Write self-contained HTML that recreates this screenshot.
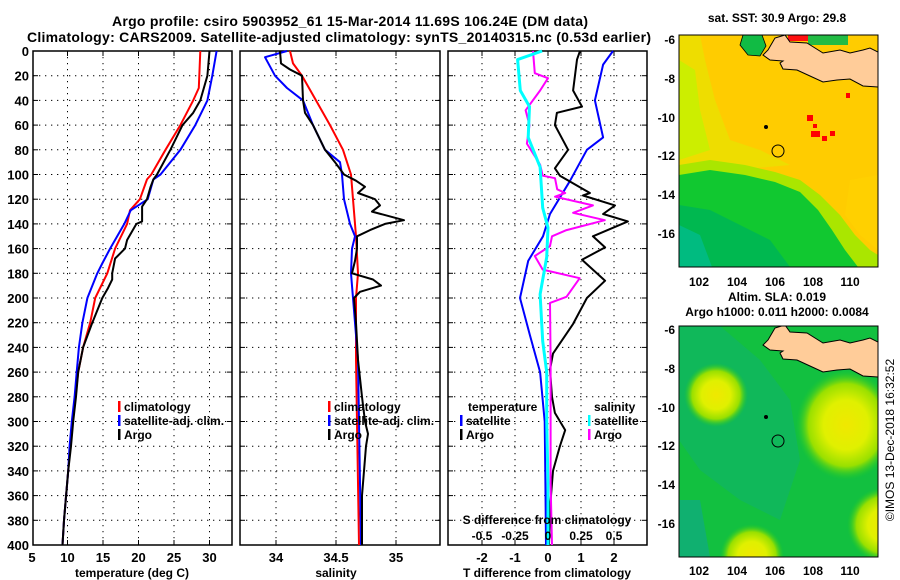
<!DOCTYPE html>
<html><head><meta charset="utf-8">
<style>
body{margin:0;background:#fff;}
svg{display:block;font-family:"Liberation Sans",Arial,sans-serif;font-weight:bold;}
</style></head>
<body>
<svg id="chart" width="900" height="580" viewBox="0 0 900 580" xmlns="http://www.w3.org/2000/svg">
<defs>
<radialGradient id="yb" cx="50%" cy="50%" r="50%">
<stop offset="0" stop-color="#F0E800"/><stop offset="0.45" stop-color="#E0F000"/><stop offset="0.75" stop-color="#99E000"/><stop offset="1" stop-color="#22CC22" stop-opacity="0"/>
</radialGradient>
<clipPath id="m1c"><rect x="679" y="35" width="199" height="232"/></clipPath>
<clipPath id="m2c"><rect x="679" y="326" width="199" height="231"/></clipPath>
</defs>
<text x="350" y="26" text-anchor="middle" font-size="14" textLength="476">Argo profile: csiro 5903952_61 15-Mar-2014 11.69S 106.24E (DM data)</text>
<text x="339" y="42" text-anchor="middle" font-size="14" textLength="624">Climatology: CARS2009. Satellite-adjusted climatology: synTS_20140315.nc (0.53d earlier)</text>
<g id="p1"></g>
<g id="p2"></g>
<g id="p3"></g>

<!-- Map 1 SST -->
<g>
<text x="777" y="22" text-anchor="middle" font-size="12">sat. SST: 30.9 Argo: 29.8</text>
<g clip-path="url(#m1c)">
<rect x="679" y="35" width="199" height="232" fill="#FFCC00"/>
<polygon points="679,35 700,35 705,60 715,100 730,140 760,150 790,165 679,175" fill="#EEDD00"/>
<polygon points="679,60 695,70 700,110 710,150 679,160" fill="#CCEE00"/>
<polygon points="679,165 710,160 745,165 775,172 800,180 820,195 840,215 855,235 870,250 878,255 878,267 679,267" fill="#AAE600"/>
<polygon points="679,175 710,170 745,175 775,182 800,192 818,210 832,230 845,250 858,267 679,267" fill="#11C830"/>
<polygon points="679,205 710,210 740,225 770,240 790,267 679,267" fill="#00B850"/>
<polygon points="679,225 700,235 712,267 679,267" fill="#00BB80"/>
<polygon points="850,180 878,175 878,250 860,235 845,215" fill="#FFD000"/>
<rect x="788" y="35" width="22" height="6" fill="#FF1010"/>
<rect x="808" y="35" width="40" height="10" fill="#22BB44"/>
<g>
<polygon points="768,50 775,38 785,35 790,42 807,43 823,53 840,50 850,53 863,50 870,48 878,52 878,87 863,86 850,79 837,80 823,82 810,76 797,70 783,69 780,63 783,61 770,60 763,55" fill="#FFCC99" stroke="#000" stroke-width="1"/>
<polygon points="743,35 762,35 766,46 760,56 748,55 740,45" fill="#11BB44" stroke="#000" stroke-width="0.8"/>
</g>
<rect x="807" y="115" width="6" height="6" fill="#f00"/><rect x="813" y="124" width="4" height="4" fill="#f00"/>
<rect x="811" y="131" width="9" height="6" fill="#f00"/><rect x="822" y="136" width="5" height="5" fill="#f00"/>
<rect x="830" y="131" width="5" height="5" fill="#f00"/><rect x="846" y="93" width="4" height="5" fill="#f00"/>
<circle cx="778" cy="151" r="6" fill="none" stroke="#000" stroke-width="1"/>
<circle cx="766" cy="127" r="2" fill="#000"/>
</g>
<rect x="679" y="35" width="199" height="232" fill="none" stroke="#000" stroke-width="1"/>
<g font-size="12">
<text x="675" y="44" text-anchor="end">-6</text><text x="675" y="83" text-anchor="end">-8</text>
<text x="675" y="122" text-anchor="end">-10</text><text x="675" y="160" text-anchor="end">-12</text>
<text x="675" y="199" text-anchor="end">-14</text><text x="675" y="238" text-anchor="end">-16</text>
<text x="699" y="286" text-anchor="middle">102</text><text x="737" y="286" text-anchor="middle">104</text>
<text x="775" y="286" text-anchor="middle">106</text><text x="813" y="286" text-anchor="middle">108</text>
<text x="850" y="286" text-anchor="middle">110</text>
</g>
</g>

<!-- Map 2 SLA -->
<g>
<text x="777" y="301" text-anchor="middle" font-size="12">Altim. SLA: 0.019</text>
<text x="777" y="316" text-anchor="middle" font-size="12">Argo h1000: 0.011 h2000: 0.0084</text>
<g clip-path="url(#m2c)">
<rect x="679" y="326" width="199" height="231" fill="#12C040"/>
<polygon points="679,326 720,326 760,360 790,400 800,460 780,520 740,500 700,470 679,440" fill="#10B85A"/>
<polygon points="679,500 700,500 710,557 679,557" fill="#10B070"/>
<ellipse cx="716" cy="395" rx="32" ry="32" fill="url(#yb)"/>
<ellipse cx="846" cy="425" rx="50" ry="55" fill="url(#yb)"/>
<ellipse cx="752" cy="556" rx="32" ry="32" fill="url(#yb)"/>
<ellipse cx="885" cy="525" rx="38" ry="38" fill="url(#yb)"/>
<g transform="translate(0,290)">
<polygon points="768,50 775,38 785,35 790,42 807,43 823,53 840,50 850,53 863,50 870,48 878,52 878,87 863,86 850,79 837,80 823,82 810,76 797,70 783,69 780,63 783,61 770,60 763,55" fill="#FFCC99" stroke="#000" stroke-width="1"/>
</g>
<circle cx="778" cy="441" r="6" fill="none" stroke="#000" stroke-width="1"/>
<circle cx="766" cy="417" r="2" fill="#000"/>
</g>
<rect x="679" y="326" width="199" height="231" fill="none" stroke="#000" stroke-width="1"/>
<g font-size="12">
<text x="675" y="334" text-anchor="end">-6</text><text x="675" y="373" text-anchor="end">-8</text>
<text x="675" y="412" text-anchor="end">-10</text><text x="675" y="450" text-anchor="end">-12</text>
<text x="675" y="489" text-anchor="end">-14</text><text x="675" y="528" text-anchor="end">-16</text>
<text x="699" y="575" text-anchor="middle">102</text><text x="737" y="575" text-anchor="middle">104</text>
<text x="775" y="575" text-anchor="middle">106</text><text x="813" y="575" text-anchor="middle">108</text>
<text x="850" y="575" text-anchor="middle">110</text>
</g>
</g>
<text transform="translate(894,440) rotate(-90)" text-anchor="middle" font-size="12" font-weight="normal">©IMOS 13-Dec-2018 16:32:52</text>
</svg>
<script>
// ---- data ----
const depthTicks = [0,20,40,60,80,100,120,140,160,180,200,220,240,260,280,300,320,340,360,380,400];
const tempTicks = [5,10,15,20,25,30];
const salTicks = [34,34.5,35];
const tdiffTicks = [-2,-1,0,1,2];
const sdiffTicks = [-0.5,-0.25,0,0.25,0.5];
const sdiffTickLabels = ["-0.5","-0.25","0","0.25","0.5"];

const climTDepth = [0,30,40,60,80,100,104,120,129,140,160,180,200,220,240,260,280,300,320,340,360,380,400];
const climTVal   = [28.7,28.5,27.7,25.9,23.8,21.8,21.2,20.2,18.8,18.4,16.7,15.6,13.9,13.2,12.2,11.5,11.1,10.7,10.4,10.1,9.8,9.5,9.3];
const satTDepth = [0,20,40,60,80,100,104,120,129,140,160,172,180,200,220,240,260,280,300,320,340,360,380,400];
const satTVal   = [31,30.4,29.7,28,25.9,23.1,22.1,21.3,18.9,18.0,16.0,14.9,14.2,12.8,12.1,11.6,11.3,11.0,10.6,10.3,10.1,9.8,9.5,9.3];
const argoTDepth = [0,20,40,50,60,80,100,104,110,120,126,138,140,153,160,168,180,185,192,200,220,240,260,280,300,320,340,360,380,400];
const argoTVal   = [30,29.7,28.7,27.7,26.2,24.5,22.6,22.1,21.7,21.2,20.5,20.5,19.7,18.4,18.1,16.7,16.3,16.3,15.7,14.9,13.5,12.2,11.5,11.2,10.8,10.5,10.1,9.8,9.5,9.3];

const climSDepth = [0,10,20,40,60,80,100,120,150,180,200,250,300,350,400];
const climSVal   = [34.117,34.142,34.217,34.333,34.45,34.558,34.625,34.642,34.667,34.683,34.667,34.667,34.675,34.683,34.692];
const satSDepth = [0,5,20,30,40,60,80,90,100,120,140,150,160,180,200,250,300,350,400];
const satSVal   = [34.092,33.908,33.992,34.092,34.225,34.308,34.408,34.533,34.55,34.567,34.617,34.658,34.633,34.625,34.642,34.683,34.692,34.7,34.708];
const argoSDepth = [0,10,15,20,40,50,60,80,90,100,105,110,115,120,125,130,137,140,145,150,160,170,180,185,190,195,200,220,250,280,300,310,320,340,360,380,400];
const argoSVal   = [34.033,34.042,34.117,34.217,34.225,34.242,34.308,34.408,34.492,34.567,34.667,34.742,34.683,34.825,34.867,34.8,35.067,34.908,34.783,34.675,34.675,34.658,34.633,34.808,34.875,34.7,34.65,34.667,34.683,34.717,34.742,34.767,34.75,34.733,34.717,34.717,34.717];

const satDTDepth = [0,11,40,70,80,105,132,150,170,200,230,260,300,350,400];
const satDTVal   = [1.97,1.67,1.42,1.67,1.18,0.67,0.06,-0.15,-0.6,-0.85,-0.55,-0.24,-0.1,-0.08,-0.06];
const argoDTDepth = [0,7,32,45,50,60,80,95,101,115,117,125,132,138,150,159,169,186,200,221,245,258,280,293,307,320,340,370,400];
const argoDTVal   = [0.97,0.88,0.76,1.03,0.27,0.21,0.61,0.21,0.36,1.27,1.06,2.03,1.67,2.42,1.36,1.73,1.03,1.73,1.18,0.76,0.15,0.06,0.12,0.21,0.52,0.36,0.15,0.06,0.03];
const satDSDepth = [0,7,32,45,70,94,127,143,167,197,235,260,300,350,400];
const satDSVal   = [-0.045,-0.23,-0.21,-0.14,-0.15,-0.06,-0.04,0,-0.01,-0.06,-0.04,-0.01,-0.01,0,0];
const argoDSDepth = [0,18,22,32,48,60,75,92,101,103,112,115,118,125,131,137,145,150,158,166,177,184,199,204,250,300,350,400];
const argoDSVal   = [-0.114,-0.1,0,-0.06,-0.17,-0.14,-0.16,-0.06,-0.04,0.053,0.07,0.13,0.053,0.34,0.19,0.43,0.14,0.03,0.015,-0.1,-0.04,0.24,0.14,0.015,0.02,0.02,0.02,0.03];

// ---- helpers ----
const NS='http://www.w3.org/2000/svg';
const Y0=51, Y1=545;
const yD = d => Y0 + (Y1-Y0)*d/400;
function mk(parent, tag, attrs){const e=document.createElementNS(NS,tag);for(const k in attrs)e.setAttribute(k,attrs[k]);parent.appendChild(e);return e;}
function scale(d0,d1,r0,r1){return v=>r0+(v-d0)*(r1-r0)/(d1-d0);}

function panel(g, x0, x1, xs, gridVals, name){
  for(const d of depthTicks){ if(d===0||d===400) continue;
    const l=mk(g,'line',{x1:x0,x2:x1,y1:yD(d),y2:yD(d),stroke:'#000','stroke-width':1,'stroke-dasharray':'1.3,4.7'});
    
    
    mk(g,'line',{x1:x0,x2:x0+5,y1:yD(d),y2:yD(d),stroke:'#000'});
    mk(g,'line',{x1:x1-5,x2:x1,y1:yD(d),y2:yD(d),stroke:'#000'});
  }
  for(const v of gridVals){ const x=xs(v);
    const l=mk(g,'line',{x1:x,x2:x,y1:Y0,y2:Y1,stroke:'#000','stroke-width':1,'stroke-dasharray':'1.3,4.7'});
    
    
    mk(g,'line',{x1:x,x2:x,y1:Y0,y2:Y0+5,stroke:'#000'});
    mk(g,'line',{x1:x,x2:x,y1:Y1-5,y2:Y1,stroke:'#000'});
  }
  const f=mk(g,'rect',{x:x0,y:Y0,width:x1-x0,height:Y1-Y0,fill:'none',stroke:'#000','stroke-width':1.5});
  
  
}
function series(g, depths, vals, xs, color, w, name){
  const pts=depths.map((d,i)=>xs(vals[i]).toFixed(1)+','+yD(d).toFixed(1)).join(' ');
  const p=mk(g,'polyline',{points:pts,fill:'none',stroke:color,'stroke-width':w,'stroke-linejoin':'round'});
  
  
}
function txt(g,x,y,s,anchor,size){const t=mk(g,'text',{x:x,y:y,'text-anchor':anchor||'start','font-size':size||12});t.textContent=s;return t;}
function legend(g,x,y,color,label,name){
  const b=mk(g,'rect',{x:x,y:y-10,width:2.5,height:11,fill:color});
  
  
  const t=txt(g,x+6,y,label,'start',12);
  
  
}

const svg=document.getElementById('chart');
const dl=mk(svg,'g',{});


for(const d of depthTicks){ txt(dl,29,yD(d)+5,String(d),'end',13); }

// Panel 1
const p1=document.getElementById('p1');
const xT=scale(5,30,32,209.5);
panel(p1,33,232,xT,[10,15,20,25,30],'temperature');
series(p1,climTDepth,climTVal,xT,'#f00',2,'climatology-temperature-line');
series(p1,satTDepth,satTVal,xT,'#00f',2,'satellite-temperature-line');
series(p1,argoTDepth,argoTVal,xT,'#000',2,'argo-temperature-line');
for(const v of tempTicks){ txt(p1,xT(v),562,String(v),'middle',13); }
txt(p1,132,577,'temperature (deg C)','middle',12);
legend(p1,118,411,'#f00','climatology','legend-climatology');
legend(p1,118,425,'#00f','satellite-adj. clim.','legend-satellite-adj');
legend(p1,118,439,'#000','Argo','legend-argo');

// Panel 2
const p2=document.getElementById('p2');
const xS=scale(34,35,276,396);
panel(p2,240,440,xS,salTicks,'salinity');
series(p2,climSDepth,climSVal,xS,'#f00',2,'climatology-salinity-line');
series(p2,satSDepth,satSVal,xS,'#00f',2,'satellite-salinity-line');
series(p2,argoSDepth,argoSVal,xS,'#000',2,'argo-salinity-line');
for(let i=0;i<salTicks.length;i++){ txt(p2,xS(salTicks[i]),562,String(salTicks[i]),'middle',13); }
txt(p2,336,577,'salinity','middle',12);
legend(p2,328,411,'#f00','climatology','legend-climatology-2');
legend(p2,328,425,'#00f','satellite-adj. clim.','legend-satellite-adj-2');
legend(p2,328,439,'#000','Argo','legend-argo-2');

// Panel 3
const p3=document.getElementById('p3');
const xDT=scale(0,1,548,581);
const xDS=scale(0,0.25,548,581);
panel(p3,448,647,xDT,tdiffTicks,'difference');
series(p3,satDTDepth,satDTVal,xDT,'#00f',2,'satellite-t-diff-line');
series(p3,argoDTDepth,argoDTVal,xDT,'#000',2,'argo-t-diff-line');
series(p3,argoDSDepth,argoDSVal,xDS,'#f0f',2,'argo-s-diff-line');
series(p3,satDSDepth,satDSVal,xDS,'#0ff',3,'satellite-s-diff-line');
for(const v of tdiffTicks){ txt(p3,xDT(v),562,String(v),'middle',13); }
txt(p3,547,577,'T difference from climatology','middle',12);
txt(p3,547,524,'S difference from climatology','middle',12);
for(let i=0;i<sdiffTicks.length;i++){ txt(p3,xDS(sdiffTicks[i]),540,sdiffTickLabels[i],'middle',12); }
txt(p3,468,411,'temperature','start',12);
txt(p3,594,411,'salinity','start',12);
legend(p3,460,425,'#00f','satellite','legend-t-satellite');
legend(p3,460,439,'#000','Argo','legend-t-argo');
legend(p3,588,425,'#0ff','satellite','legend-s-satellite');
legend(p3,588,439,'#f0f','Argo','legend-s-argo');
</script>
</body></html>
